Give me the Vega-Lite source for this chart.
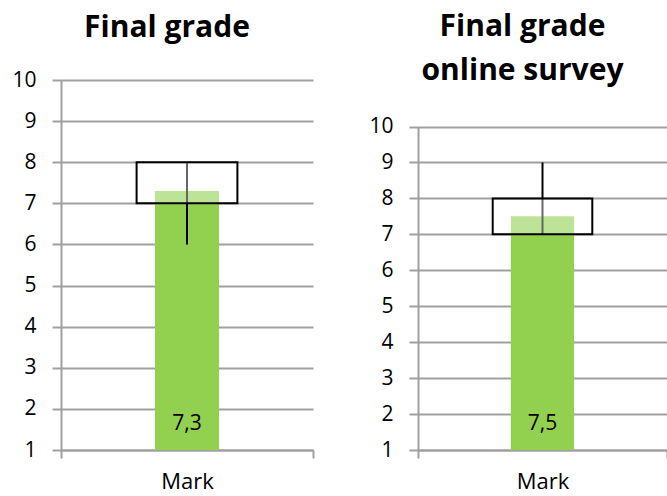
{
  "$schema": "https://vega.github.io/schema/vega-lite/v6.json",
  "autosize": {"type": "pad"},
  "padding": {"left": 11, "top": 12, "right": 0, "bottom": 0},
  "background": "white",
  "spacing": 54,
  "datasets": {
    "final": [{"item": "Mark", "mean": 7.3, "label": "7,3", "low": 6, "q1": 7, "q3": 8, "high": 8}],
    "online": [{"item": "Mark", "mean": 7.5, "label": "7,5", "low": 7, "q1": 7, "q3": 8, "high": 9}]
  },
  "hconcat": [
    {
      "title": {"text": "Final grade", "offset": 26},
      "data": {"name": "final"},
      "width": 252,
      "height": 370,
      "encoding": {
        "x": {"field": "item", "type": "nominal", "title": null,
              "scale": {"paddingInner": 0, "paddingOuter": 0}}
      },
      "layer": [
        {"mark": {"type": "bar", "color": "#92D050", "width": {"band": 0.254}},
         "encoding": {"y": {"field": "mean", "type": "quantitative", "title": null,
                            "scale": {"domain": [1, 10], "nice": false, "zero": false}},
                      "y2": {"datum": 1}}},
        {"mark": {"type": "rule", "color": "black", "strokeWidth": 2},
         "encoding": {"y": {"field": "low", "type": "quantitative"}, "y2": {"field": "high"}}},
        {"mark": {"type": "bar", "fill": "white", "fillOpacity": 0.4, "stroke": "black", "strokeWidth": 2, "width": {"band": 0.4}},
         "encoding": {"y": {"field": "q1", "type": "quantitative"}, "y2": {"field": "q3"}}},
        {"mark": {"type": "text", "baseline": "alphabetic", "dy": -20, "fontSize": 21, "font": "Open Sans", "color": "black"},
         "encoding": {"y": {"datum": 1, "type": "quantitative"}, "text": {"field": "label"}}}
      ]
    },
    {
      "title": {"text": ["Final grade", "online survey"], "offset": -6},
      "data": {"name": "online"},
      "width": 249,
      "height": 370,
      "encoding": {
        "x": {"field": "item", "type": "nominal", "title": null,
              "scale": {"paddingInner": 0, "paddingOuter": 0}}
      },
      "layer": [
        {"mark": {"type": "bar", "color": "#92D050", "width": {"band": 0.254}},
         "encoding": {"y": {"field": "mean", "type": "quantitative", "title": null,
                            "scale": {"domain": [1, 10], "nice": false, "zero": false, "range": [370, 46.5]}},
                      "y2": {"datum": 1}}},
        {"mark": {"type": "rule", "color": "black", "strokeWidth": 2},
         "encoding": {"y": {"field": "low", "type": "quantitative"}, "y2": {"field": "high"}}},
        {"mark": {"type": "bar", "fill": "white", "fillOpacity": 0.4, "stroke": "black", "strokeWidth": 2, "width": {"band": 0.4}},
         "encoding": {"y": {"field": "q1", "type": "quantitative"}, "y2": {"field": "q3"}}},
        {"mark": {"type": "text", "baseline": "alphabetic", "dy": -20, "fontSize": 21, "font": "Open Sans", "color": "black"},
         "encoding": {"y": {"datum": 1, "type": "quantitative"}, "text": {"field": "label"}}}
      ]
    }
  ],
  "config": {
    "view": {"stroke": null},
    "font": "Open Sans",
    "title": {"fontSize": 30, "font": "Open Sans", "fontWeight": "bold", "color": "black",
              "anchor": "middle", "dx": -20, "lineHeight": 44},
    "axisY": {"values": [1, 2, 3, 4, 5, 6, 7, 8, 9, 10], "grid": true, "gridColor": "#a0a0a0", "gridWidth": 2,
              "domainColor": "#a0a0a0", "domainWidth": 2, "tickColor": "#a0a0a0", "tickWidth": 2, "tickSize": 9,
              "labelFontSize": 21, "labelFont": "Open Sans", "labelColor": "black", "labelPadding": 16,
              "labelFlush": false, "labelOverlap": false, "labelBound": false},
    "axisX": {"grid": false, "domainColor": "#a0a0a0", "domainWidth": 2, "tickColor": "#a0a0a0", "tickWidth": 2,
              "tickSize": 8, "tickBand": "extent", "labelAngle": 0, "labelFontSize": 22, "labelFont": "Open Sans",
              "labelColor": "black", "labelBaseline": "alphabetic", "labelPadding": 30}
  }
}
